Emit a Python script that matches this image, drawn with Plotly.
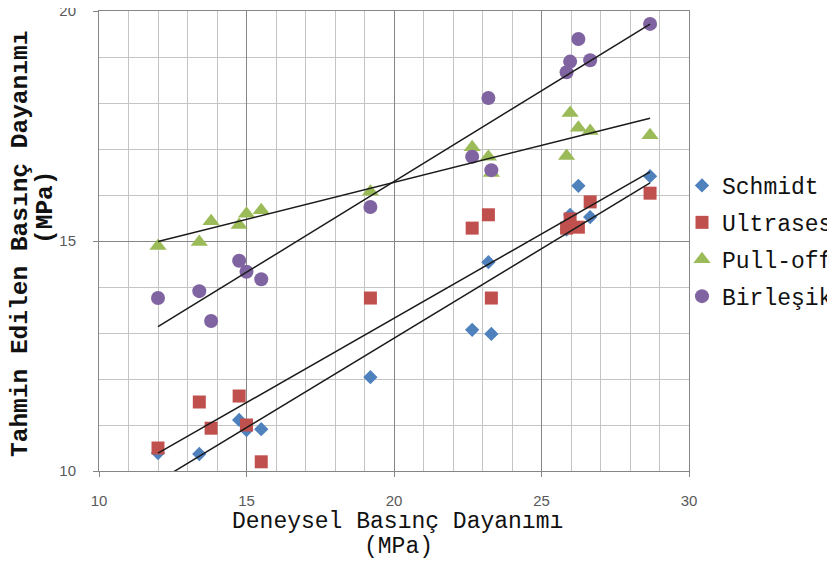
import numpy as np
import plotly.graph_objects as go

# Deneysel basınç dayanımı (MPa) - shared specimen values
deneysel = [12.0, 13.4, 13.8, 14.75, 15.0, 15.5, 19.2, 22.65, 23.2, 23.3,
            25.85, 25.97, 26.25, 26.65, 28.68]

schmidt = [10.39, 10.37, None, 11.11, 10.89, 10.91, 12.04, 13.07, 14.54, 12.98,
           15.25, 15.57, 16.2, 15.52, 16.41]
ultrases = [10.5, 11.5, 10.93, 11.63, 11.0, 10.2, 13.76, 15.28, 15.57, 13.76,
            15.28, 15.48, 15.3, 15.85, 16.04]
pull_off = [14.89, 14.98, 15.43, 15.35, 15.59, 15.67, 16.07, 17.04, 16.83, 16.48,
            16.85, 17.78, 17.46, 17.39, 17.3]
birlesik = [13.76, 13.91, 13.26, 14.57, 14.33, 14.17, 15.74, 16.83, 18.11, 16.54,
            18.67, 18.9, 19.39, 18.93, 19.72]

series_names = ["Schmidt", "Ultrases", "Pull-off", "Birleşik"]
series_values = [schmidt, ultrases, pull_off, birlesik]
colors = ["#4F81BD", "#C0504D", "#9BBB59", "#8064A2"]
symbols = ["diamond", "square", "triangle-up", "circle"]
sizes = [11, 13, 15, 14]

x_ticks = [10, 15, 20, 25, 30]
y_ticks = [10, 15, 20]

fig = go.Figure()

for name, vals, c, s, sz in zip(series_names, series_values, colors, symbols, sizes):
    fig.add_trace(go.Scatter(
        x=deneysel, y=vals, mode="markers", name=name,
        marker=dict(color=c, symbol=s, size=sz, line=dict(width=0)),
        legendgroup=name,
    ))

# linear trend lines (least squares from data)
for name, vals in zip(series_names, series_values):
    xs = np.array([x for x, v in zip(deneysel, vals) if v is not None], float)
    ys = np.array([v for v in vals if v is not None], float)
    k, b = np.polyfit(xs, ys, 1)
    xl = np.array([xs.min(), xs.max()])
    fig.add_trace(go.Scatter(
        x=xl, y=k * xl + b, mode="lines", showlegend=False,
        line=dict(color="#1a1a1a", width=1.5), hoverinfo="skip",
    ))

axis_common = dict(
    showline=True, mirror=True, linecolor="#868686", linewidth=1,
    showgrid=True, gridcolor="#868686", gridwidth=1,
    ticks="outside", ticklen=5, tickcolor="#868686",
    tickfont=dict(family="Liberation Sans", size=15, color="#595959"),
    zeroline=False, ticklabeloverflow="allow",
    minor=dict(dtick=1, showgrid=True, gridcolor="#c4c4c4", gridwidth=1, ticks=""),
)

fig.update_xaxes(range=[10, 30], tickvals=x_ticks, ticklabelstandoff=11, **axis_common)
fig.update_yaxes(range=[10, 20], tickvals=y_ticks, ticklabelstandoff=14, **axis_common)

mono = "Liberation Mono"
# page offset (body margin) and plot-area edges in screenshot pixels
off = 8
px0, px1, py0, py1 = 99, 689, 11, 471


def px_to_paper(xp, yp):
    return (xp - px0) / (px1 - px0), (py1 - yp) / (py1 - py0)


annots = []
ax, ay = px_to_paper(397, 522)
annots.append(dict(text="Deneysel Basınç Dayanımı", x=ax, y=ay, xref="paper", yref="paper",
                   showarrow=False, xanchor="center", yanchor="middle",
                   font=dict(family=mono, size=23, color="#111111")))
ax, ay = px_to_paper(398, 547)
annots.append(dict(text="(MPa)", x=ax, y=ay, xref="paper", yref="paper",
                   showarrow=False, xanchor="center", yanchor="middle",
                   font=dict(family=mono, size=23, color="#111111")))
ax, ay = px_to_paper(20, 244)
annots.append(dict(text="<b>Tahmin Edilen Basınç Dayanımı</b>", x=ax, y=ay, xref="paper",
                   yref="paper", showarrow=False, xanchor="center", yanchor="middle",
                   textangle=-90, font=dict(family=mono, size=24.5, color="#111111")))
ax, ay = px_to_paper(45, 207)
annots.append(dict(text="<b>(MPa)</b>", x=ax, y=ay, xref="paper", yref="paper",
                   showarrow=False, xanchor="center", yanchor="middle",
                   textangle=-90, font=dict(family=mono, size=24.5, color="#111111")))

fig.update_layout(
    width=835, height=565,
    margin=dict(l=px0 - off, r=835 - px1 + off, t=py0 - off, b=565 - py1 + off,
                autoexpand=False),
    paper_bgcolor="white", plot_bgcolor="white",
    annotations=annots,
    legend=dict(
        xref="container", yref="container",
        x=674 / 835, y=1 - 156 / 565, xanchor="left", yanchor="top",
        font=dict(family=mono, size=23, color="#111111"),
        bgcolor="rgba(0,0,0,0)", tracegroupgap=4, itemwidth=30,
    ),
)

fig.write_html("out.html")
